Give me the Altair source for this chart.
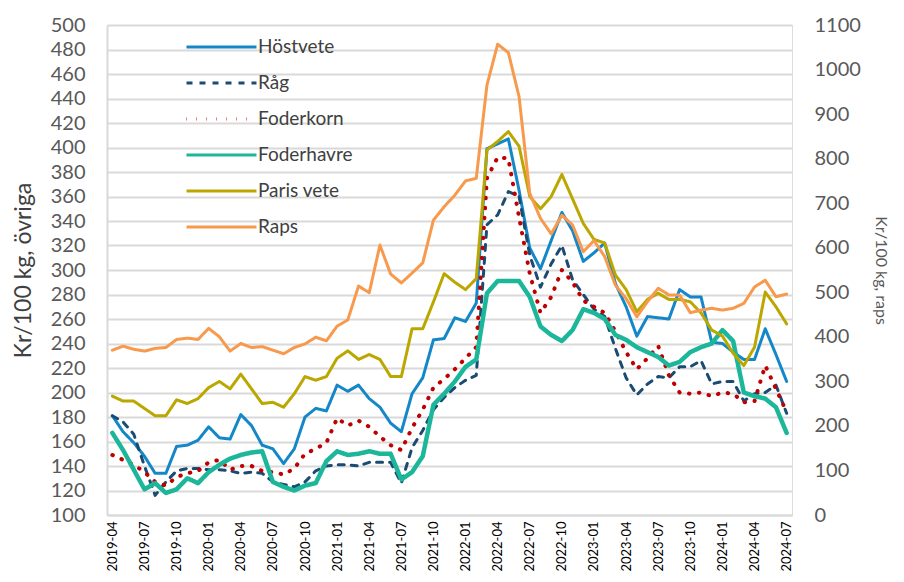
import altair as alt
import pandas as pd

# ---- categories -------------------------------------------------------
all_months = [f"{y}-{m:02d}" for y in range(2019, 2025) for m in range(1, 13)]
months = all_months[3:3 + 64]          # 2019-04 .. 2024-07
tick_labels = months[::3]

series_names = ["Höstvete", "Råg", "Foderkorn", "Foderhavre", "Paris vete", "Raps"]

# ---- values (kr/100 kg; Raps on right axis) ---------------------------
hostvete = [181, 168, 159, 148, 134, 134, 156, 157, 161, 172, 163, 162, 182, 173, 157, 154,
            142, 154, 180, 187, 185, 206, 201, 206, 195, 188, 175, 168, 199, 212, 243, 244,
            261, 258, 273, 399, 403, 407, 365, 318, 301, 324, 347, 332, 307, 314, 322, 289,
            270, 246, 262, 261, 260, 284, 278, 278, 241, 240, 233, 227, 227, 252, 231, 209]
rag = [181, 176, 166, 140, 116, 127, 136, 138, 138, 137, 137, 136, 134, 135, 134, 127,
       125, 123, 127, 136, 140, 141, 141, 140, 143, 143, 143, 126, 155, 169, 186, 196,
       204, 210, 214, 337, 345, 364, 360, 312, 286, 305, 320, 292, 280, 268, 262, 236,
       212, 198, 207, 213, 212, 221, 221, 226, 207, 209, 209, 193, 199, 200, 206, 183]
foderkorn = [149, 145, 141, 135, 127, 124, 131, 134, 136, 143, 145, 137, 140, 140, 136, 135,
             133, 138, 150, 154, 159, 179, 173, 177, 172, 164, 157, 153, 171, 186, 204, 211,
             219, 228, 237, 375, 392, 391, 343, 297, 265, 278, 300, 290, 275, 270, 265, 250,
             233, 219, 228, 238, 214, 200, 199, 200, 197, 200, 199, 192, 193, 222, 203, 184]
foderhavre = [167, 153, 137, 121, 126, 118, 121, 130, 126, 135, 141, 146, 149, 151, 152, 127,
              123, 120, 124, 126, 144, 152, 149, 150, 152, 150, 150, 129, 135, 148, 190, 199,
              209, 221, 227, 281, 291, 291, 291, 278, 254, 247, 242, 251, 268, 265, 260, 247,
              243, 237, 233, 229, 222, 225, 233, 237, 240, 251, 242, 200, 197, 195, 188, 167]
paris = [197, 193, 193, 187, 181, 181, 194, 191, 195, 204, 209, 203, 215, 203, 191, 192,
         188, 199, 213, 210, 213, 228, 234, 227, 231, 227, 213, 213, 252, 252, 274, 297,
         290, 284, 293, 398, 405, 413, 401, 360, 350, 360, 378, 358, 338, 325, 322, 296,
         284, 266, 276, 281, 276, 276, 274, 265, 251, 246, 232, 222, 237, 282, 270, 256]
raps = [370, 379, 372, 368, 374, 376, 394, 397, 394, 419, 400, 368, 385, 376, 378, 370,
        362, 376, 384, 399, 391, 424, 438, 514, 499, 606, 541, 521, 543, 566, 662, 692,
        718, 750, 756, 965, 1057, 1038, 939, 722, 666, 631, 673, 651, 591, 616, 580, 516,
        486, 445, 479, 509, 494, 494, 454, 460, 464, 460, 464, 475, 512, 527, 490, 496]

# ---- styles -----------------------------------------------------------
colors = ["#1487C8", "#1B4A72", "#C00000", "#1CB79A", "#BBA700", "#F79A4D"]
dashes = [[1, 0], [6, 7], [0.5, 9.5], [1, 0], [1, 0], [1, 0]]

values = [hostvete, rag, foderkorn, foderhavre, paris, raps]
rows = []
for name, vals in zip(series_names, values):
    for m, v in zip(months, vals):
        rows.append({"month": m, "series": name, "value": v})
df = pd.DataFrame(rows)
left_df = df[df["series"] != "Raps"]
raps_df = df[df["series"] == "Raps"]

FONT = "Lato"

legend = alt.Legend(
    title=None, orient="none", legendX=78, legendY=5, padding=0,
    symbolType="stroke", symbolSize=4900, clipHeight=34, rowPadding=2,
    symbolStrokeWidth=3, labelFontSize=19, labelFont=FONT,
    labelColor="#404040", labelOffset=0,
)

color = alt.Color("series:N", scale=alt.Scale(domain=series_names, range=colors), legend=legend)
dash = alt.StrokeDash("series:N", scale=alt.Scale(domain=series_names, range=dashes), legend=legend)

x = alt.X(
    "month:O", sort=months,
    scale=alt.Scale(type="point", padding=0.5),
    axis=alt.Axis(values=tick_labels, labelAngle=270, labelFontSize=13, labelFont=FONT,
                  labelColor="#000000", labelPadding=6, ticks=False, grid=False,
                  domainColor="#d9d9d9", domainWidth=2, title=None),
)

width_rule = (
    alt.when(alt.datum.series == "Foderhavre").then(alt.value(4.5))
    .when(alt.datum.series == "Foderkorn").then(alt.value(4))
    .otherwise(alt.value(3))
)

left = alt.Chart(left_df).mark_line(strokeCap="round", strokeJoin="round").encode(
    x=x,
    y=alt.Y("value:Q",
            scale=alt.Scale(domain=[100, 500], nice=False, zero=False),
            axis=alt.Axis(values=list(range(100, 501, 20)), grid=True, gridColor="#d9d9d9",
                          gridWidth=2, domain=True, domainColor="#d9d9d9", domainWidth=2,
                          ticks=False, labelFontSize=20, labelFont=FONT, labelColor="#595959",
                          labelPadding=22, title="Kr/100 kg, övriga", titleFontSize=23,
                          titleFont=FONT, titleFontWeight="normal", titleColor="#404040",
                          titlePadding=15)),
    color=color,
    strokeDash=dash,
    strokeWidth=width_rule,
)

right = alt.Chart(raps_df).mark_line(strokeCap="round", strokeJoin="round", strokeWidth=3).encode(
    x=x,
    y=alt.Y("value:Q",
            scale=alt.Scale(domain=[0, 1100], nice=False),
            axis=alt.Axis(orient="right", values=list(range(0, 1101, 100)), format="d",
                          grid=False, domain=False, ticks=False, labelFontSize=20,
                          labelFont=FONT, labelColor="#595959", labelPadding=22,
                          title="Kr/100 kg, raps", titleFontSize=16, titleFont=FONT,
                          titleFontWeight="normal", titleColor="#595959", titlePadding=12)),
    color=color,
    strokeDash=dash,
)

chart = alt.layer(left, right).resolve_scale(y="independent").properties(
    width=685, height=490,
    autosize=alt.AutoSizeParams(type="none"),
    padding={"left": 99, "top": 17, "right": 102, "bottom": 57},
).configure_view(stroke=None).configure(background="white")

chart.save("out.html", embed_options={"renderer": "svg", "actions": False})
